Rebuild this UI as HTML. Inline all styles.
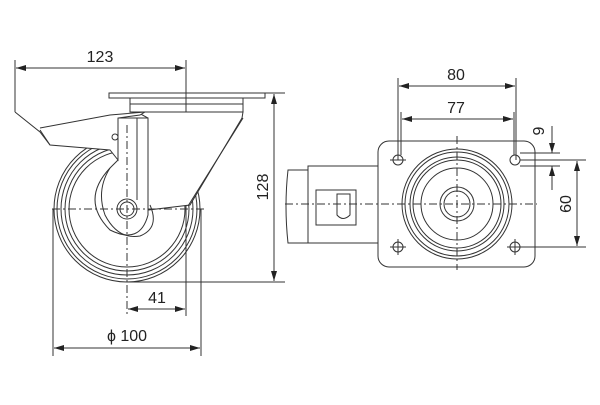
<!DOCTYPE html>
<html><head><meta charset="utf-8"><style>
html,body{margin:0;padding:0;background:#fff;}
svg{display:block}
text{font-family:"Liberation Sans",sans-serif;fill:#222;font-size:16px}
</style></head><body>
<svg width="600" height="405" viewBox="0 0 600 405" xmlns="http://www.w3.org/2000/svg">
<defs>
<marker id="a" viewBox="0 0 10 6" refX="10" refY="3" markerWidth="10" markerHeight="6" orient="auto-start-reverse" markerUnits="userSpaceOnUse"><path d="M0,0 L10,3 L0,6 z" fill="#222"/></marker>
</defs>
<g fill="none" stroke="#333" stroke-width="1">
<!-- LEFT VIEW -->
<!-- dimension 123 -->
<line x1="15" y1="60" x2="15" y2="112"/>
<line x1="186" y1="60" x2="186" y2="316"/>
<line x1="16" y1="68" x2="185" y2="68" marker-start="url(#a)" marker-end="url(#a)"/>
<!-- plates -->
<rect x="109" y="93" width="156" height="5"/>
<rect x="130" y="98" width="113" height="14"/>
<line x1="130" y1="104" x2="243" y2="104"/>
<!-- wheel -->
<circle cx="127" cy="209" r="73"/>
<circle cx="127" cy="209" r="70"/>
<circle cx="127" cy="209" r="66"/>
<circle cx="127" cy="209" r="62"/>
<circle cx="127" cy="209" r="58"/>
<!-- fork body (white fill to hide wheel) -->
<path d="M137,112 L243,112 L242,118 L190,205 L148,210 L148,118 Z" fill="#fff"/>
<path d="M110,168 Q80,200 110,230 Q140,245 148,215 L148,118 L118,118 L118,160 Z" fill="#fff"/>
<path d="M110,168 Q96,190 105,215 Q118,240 140,236 Q160,228 150,205" />
<line x1="137" y1="118" x2="137" y2="200"/>
<line x1="148" y1="118" x2="148" y2="200"/>
<line x1="243" y1="118" x2="188" y2="206"/>
<!-- brake lever -->
<path d="M15,112 L40,132 L50,145 L110,150 L118,160 L118,118 L140,115 L145,112 L110,115 L40,128" fill="#fff"/>
<line x1="40" y1="130" x2="50" y2="145"/>
<circle cx="115" cy="137" r="3"/>
<!-- hub -->
<circle cx="127" cy="209" r="10" fill="#fff"/>
<circle cx="127" cy="209" r="7"/>
<!-- centerlines -->
<line x1="52" y1="209" x2="205" y2="209" stroke-dasharray="8,3,2,3"/>
<line x1="127" y1="125" x2="127" y2="316" stroke-dasharray="8,3,2,3"/>
<!-- 128 -->
<line x1="265" y1="93" x2="285" y2="93"/>
<line x1="127" y1="282" x2="285" y2="282"/>
<line x1="274" y1="94" x2="274" y2="281" marker-start="url(#a)" marker-end="url(#a)"/>
<!-- 41 -->
<line x1="128" y1="309" x2="185" y2="309" marker-start="url(#a)" marker-end="url(#a)"/>
<!-- 100 -->
<line x1="53" y1="209" x2="53" y2="356"/>
<line x1="201" y1="209" x2="201" y2="356"/>
<line x1="54" y1="348" x2="200" y2="348" marker-start="url(#a)" marker-end="url(#a)"/>

<!-- RIGHT VIEW -->
<path d="M288,170 L308,170 L308,243 L288,243 Q284,206 288,170 Z"/>
<rect x="308" y="166" width="70" height="77"/>
<rect x="316" y="190" width="40" height="35"/>
<path d="M337,194 L350,194 L350,215 Q343,222 337,215 Z"/>
<rect x="378" y="141" width="157" height="126" rx="11"/>
<circle cx="457" cy="204" r="55"/>
<circle cx="457" cy="204" r="52"/>
<circle cx="457" cy="204" r="47"/>
<circle cx="457" cy="204" r="44"/>
<circle cx="457" cy="204" r="36"/>
<circle cx="457" cy="204" r="17"/>
<circle cx="457" cy="204" r="13"/>
<circle cx="398" cy="160" r="5"/>
<circle cx="515" cy="160" r="5"/>
<circle cx="398" cy="247" r="5"/>
<circle cx="515" cy="247" r="5"/>
<line x1="390" y1="247" x2="406" y2="247"/><line x1="398" y1="239" x2="398" y2="255"/>
<line x1="507" y1="247" x2="523" y2="247"/><line x1="515" y1="239" x2="515" y2="255"/>
<line x1="390" y1="160" x2="406" y2="160"/>
<line x1="285" y1="204" x2="537" y2="204" stroke-dasharray="8,3,2,3"/>
<line x1="457" y1="136" x2="457" y2="270" stroke-dasharray="8,3,2,3"/>
<!-- 80 / 77 -->
<line x1="398" y1="78" x2="398" y2="160"/>
<line x1="516" y1="78" x2="516" y2="160"/>
<line x1="399" y1="86" x2="515" y2="86" marker-start="url(#a)" marker-end="url(#a)"/>
<line x1="401" y1="112" x2="401" y2="155"/>
<line x1="514" y1="112" x2="514" y2="155"/>
<line x1="402" y1="119" x2="513" y2="119" marker-start="url(#a)" marker-end="url(#a)"/>
<!-- 9 -->
<line x1="520" y1="153" x2="560" y2="153"/>
<line x1="520" y1="166" x2="560" y2="166"/>
<line x1="552" y1="126" x2="552" y2="153" marker-end="url(#a)"/>
<line x1="552" y1="190" x2="552" y2="166" marker-end="url(#a)"/>
<!-- 60 -->
<line x1="520" y1="160" x2="586" y2="160"/>
<line x1="520" y1="247" x2="586" y2="247"/>
<line x1="577" y1="161" x2="577" y2="246" marker-start="url(#a)" marker-end="url(#a)"/>
</g>
<text x="100" y="62" text-anchor="middle">123</text>
<text transform="translate(268,187) rotate(-90)" text-anchor="middle">128</text>
<text x="157" y="303" text-anchor="middle">41</text>
<text x="127" y="341" text-anchor="middle">ϕ 100</text>
<text x="456" y="80" text-anchor="middle">80</text>
<text x="456" y="113" text-anchor="middle">77</text>
<text transform="translate(544,131) rotate(-90)" text-anchor="middle">9</text>
<text transform="translate(571,204) rotate(-90)" text-anchor="middle">60</text>
</svg>
</body></html>
